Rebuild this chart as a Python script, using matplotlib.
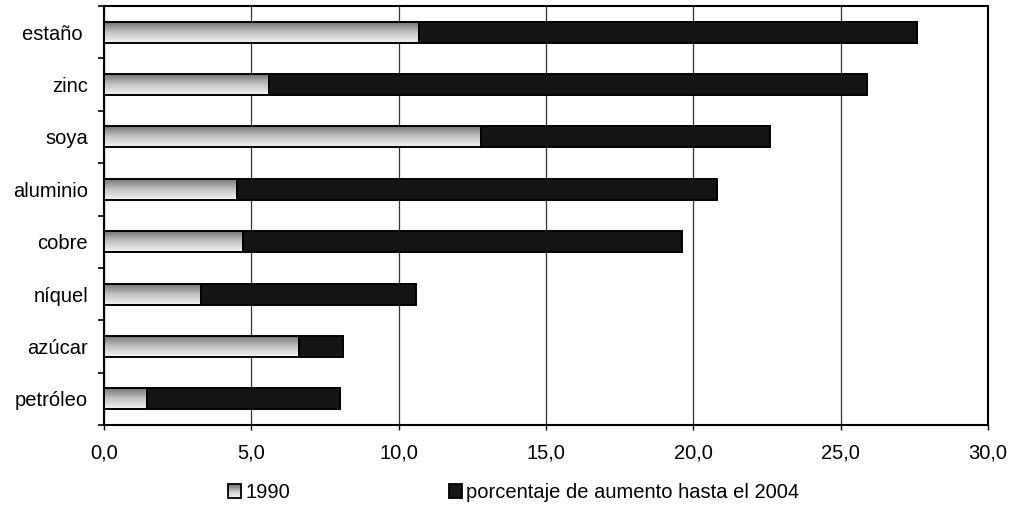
import numpy as np
import matplotlib
matplotlib.use("Agg")
import matplotlib.pyplot as plt
import matplotlib.patches as patches
from matplotlib.legend_handler import HandlerBase
from matplotlib.colors import LinearSegmentedColormap

plt.rcParams['font.family'] = ['Liberation Sans', 'DejaVu Sans']

productos = ["estaño ", "zinc", "soya", "aluminio", "cobre", "níquel", "azúcar", "petróleo"]
v1990 = [10.7, 5.6, 12.8, 4.5, 4.7, 3.3, 6.6, 1.45]
aumento = [16.9, 20.3, 9.8, 16.3, 14.9, 7.3, 1.5, 6.55]
xticks = [0, 5, 10, 15, 20, 25, 30]

oscuro = "#151515"
grad = LinearSegmentedColormap.from_list("g", ["#f4f4f4", "#c4c4c4", "#767676"])


class GradHandler(HandlerBase):
    # cuadrito con degradado para la leyenda
    def create_artists(self, legend, orig, xd, yd, w, h, fs, trans):
        arts = []
        n = 12
        for k in range(n):
            c = grad(k / (n - 1))
            arts.append(patches.Rectangle((-xd, -yd + h * k / n), w, h / n + 0.3,
                                          fc=c, ec="none", transform=trans))
        arts.append(patches.Rectangle((-xd, -yd), w, h, fc="none", ec="black",
                                      lw=1.3, transform=trans))
        return arts


fig = plt.figure(figsize=(10.11, 5.23), dpi=100)
ax = fig.add_axes([0.1029, 0.1874, 0.8744, 0.8011])

pos = np.arange(len(productos))[::-1]
h = 0.4

b1 = ax.barh(pos, v1990, height=h, color="none", edgecolor="black", lw=1.4, zorder=4)
b2 = ax.barh(pos, aumento, left=v1990, height=h, color=oscuro, edgecolor="black",
             lw=1.4, zorder=3)

g = np.linspace(0, 1, 64).reshape(-1, 1)
for p in b1:
    x0, y0 = p.get_x(), p.get_y()
    im = ax.imshow(g, cmap=grad, origin="lower", aspect="auto", zorder=3,
                   extent=(x0, x0 + p.get_width(), y0, y0 + p.get_height()),
                   interpolation="bilinear")
    im.set_clip_path(p)

ax.set_xlim(0, 30)
ax.set_ylim(-0.5, len(productos) - 0.5)

ax.set_xticks(xticks, [f"{v:.1f}".replace(".", ",") for v in xticks])
ax.set_yticks(pos, productos)
ax.set_yticks(np.arange(-0.5, len(productos)), minor=True)
ax.tick_params(axis="x", length=3.5, width=1, pad=10, labelsize=14.5, direction="out")
ax.tick_params(axis="y", which="major", length=0, pad=11.5, labelsize=14.5)
ax.tick_params(axis="y", which="minor", length=4.5, width=1.2, direction="out")

ax.grid(axis="x", color="#333333", lw=0.9, zorder=1)
ax.set_axisbelow(True)
for s in ax.spines.values():
    s.set_linewidth(1.5)
    s.set_color("black")

hs = [patches.Patch(), patches.Patch(fc=oscuro, ec="black", lw=1.3)]
fig.legend(hs, ["1990", "porcentaje de aumento hasta el 2004"], ncol=2,
           loc="center", bbox_to_anchor=(0.508, 0.058), frameon=False,
           fontsize=14.5, handlelength=0.66, handleheight=0.66, handletextpad=0.2,
           columnspacing=7.9, handler_map={hs[0]: GradHandler()})

fig.savefig("out.png", dpi=100)
